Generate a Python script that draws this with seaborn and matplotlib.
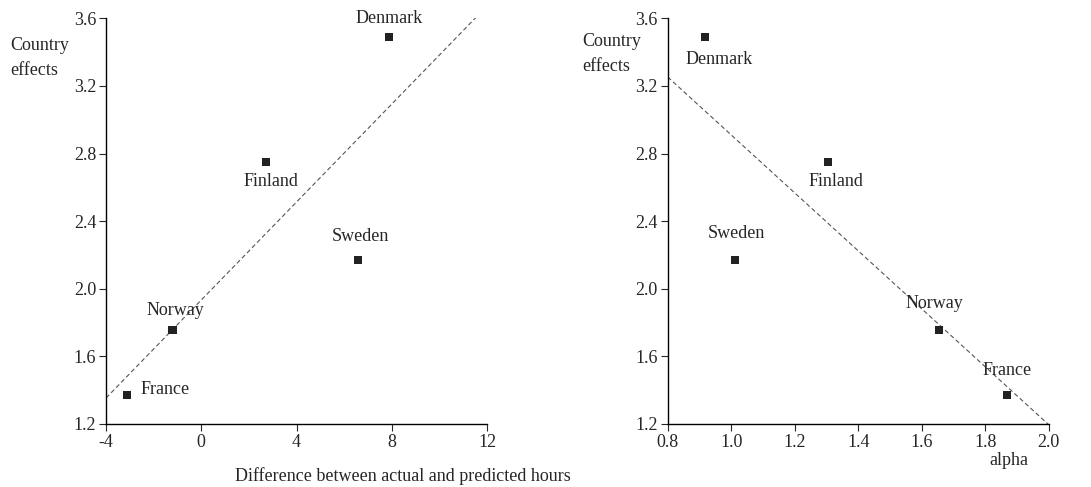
import numpy as np
import pandas as pd
import matplotlib
matplotlib.use("Agg")
import matplotlib.pyplot as plt
import seaborn as sns

# data
countries = ["Denmark", "Finland", "Sweden", "Norway", "France"]
hours_diff = [7.9, 2.71, 6.6, -1.21, -3.12]
alpha = [0.917, 1.306, 1.013, 1.655, 1.869]
country_effects = [3.49, 2.75, 2.17, 1.754, 1.37]

df = pd.DataFrame({"country": countries, "hours": hours_diff,
                   "alpha": alpha, "effect": country_effects})

sns.set_theme(style="ticks")
plt.rcParams['font.family'] = ['Liberation Serif', 'DejaVu Serif']
FS = 13

# label offsets (pixels) and alignment for each panel
left_offsets = {"Denmark": (0, 18, "center"), "Finland": (5, -20, "center"),
                "Sweden": (2, 24, "center"), "Norway": (3, 20, "center"),
                "France": (14, 6, "left")}
right_offsets = {"Denmark": (14, -23, "center"), "Finland": (8, -20, "center"),
                 "Sweden": (1, 27, "center"), "Norway": (-5, 27, "center"),
                 "France": (0, 25, "center")}

fig = plt.figure(figsize=(10.91, 4.87), dpi=100)
ax1 = fig.add_axes([0.0972, 0.1294, 0.3492, 0.833])
ax2 = fig.add_axes([0.612, 0.1294, 0.3492, 0.833])


def draw_panel(ax, xcol, xlim, xticks, xticklabels, offsets):
    ax.set_xlim(*xlim)
    ax.set_ylim(1.2, 3.6)
    sns.regplot(data=df, x=xcol, y="effect", ax=ax, ci=None, truncate=False,
                scatter=False, line_kws=dict(color="#555555", lw=0.8, ls=(0, (4, 2.5))))
    sns.scatterplot(data=df, x=xcol, y="effect", ax=ax, marker="s", s=34,
                    color="#222222", edgecolor="none", zorder=3)
    for _, r in df.iterrows():
        dx, dy, ha = offsets[r["country"]]
        ax.annotate(r["country"], (r[xcol], r["effect"]), xytext=(dx, dy),
                    textcoords="offset pixels", ha=ha, va="center", fontsize=FS)
    ax.set_xlim(*xlim)
    ax.set_ylim(1.2, 3.6)
    ax.set_xticks(xticks)
    ax.set_xticklabels(xticklabels)
    ax.set_yticks([1.2, 1.6, 2.0, 2.4, 2.8, 3.2, 3.6])
    ax.set_yticklabels(["1.2", "1.6", "2.0", "2.4", "2.8", "3.2", "3.6"])
    sns.despine(ax=ax)
    ax.tick_params(direction="out", length=5, width=0.8, labelsize=FS, pad=2)
    for s in ["left", "bottom"]:
        ax.spines[s].set_linewidth(1.0)
        ax.spines[s].set_color("black")


draw_panel(ax1, "hours", (-4, 12), [-4, 0, 4, 8, 12],
           ["-4", "0", "4", "8", "12"], left_offsets)
ax1.set_xlabel("Difference between actual and predicted hours", fontsize=FS, va="center")
ax1.xaxis.set_label_coords(0.78, -0.128)
ax1.set_ylabel("Country\neffects", rotation=0, ha="left", va="center",
               fontsize=FS, linespacing=1.6)
ax1.yaxis.set_label_coords(-0.252, 0.903)

draw_panel(ax2, "alpha", (0.8, 2.0), [0.8, 1.0, 1.2, 1.4, 1.6, 1.8, 2.0],
           ["0.8", "1.0", "1.2", "1.4", "1.6", "1.8", "2.0"], right_offsets)
ax2.set_xlabel("alpha", fontsize=FS, va="center")
ax2.xaxis.set_label_coords(0.896, -0.089)
ax2.set_ylabel("Country\neffects", rotation=0, ha="left", va="center",
               fontsize=FS, linespacing=1.6)
ax2.yaxis.set_label_coords(-0.225, 0.9125)

fig.savefig("out.png", dpi=100)
